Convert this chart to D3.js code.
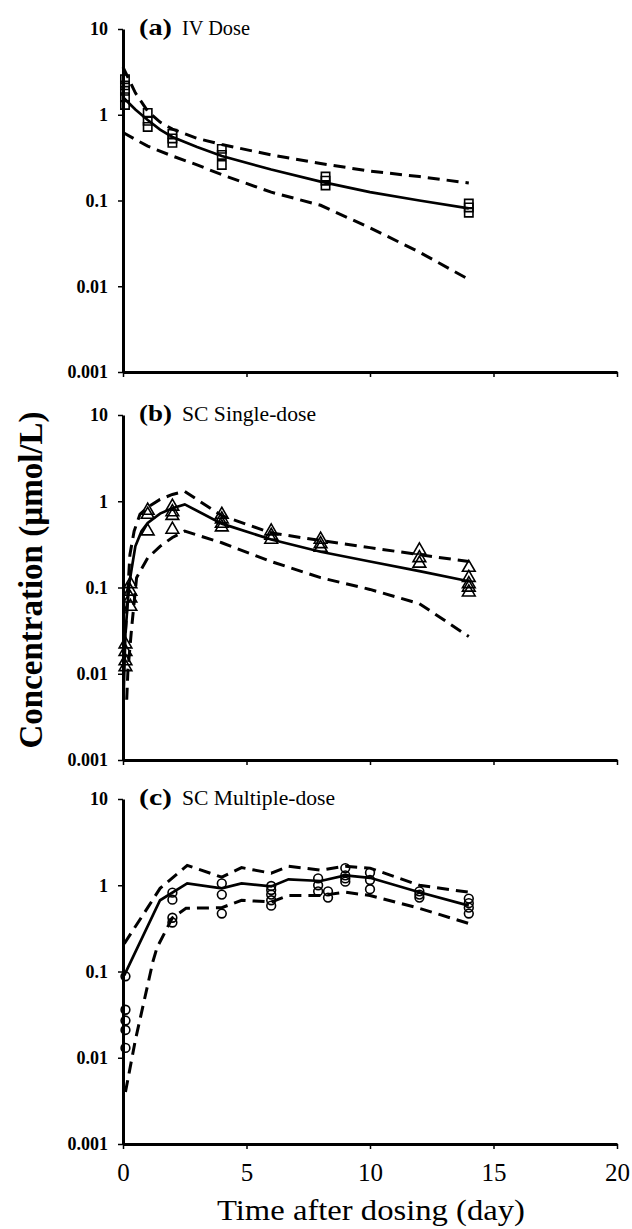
<!DOCTYPE html>
<html><head>
<meta charset="UTF-8">
<script src="https://cdn.jsdelivr.net/npm/d3@7/dist/d3.min.js"></script>
<style>
body{margin:0;background:#fff}
svg{display:block}
.tick text{font-family:"Liberation Serif","Times New Roman",serif;fill:#000}
</style>
</head><body>
<svg id="chart" width="632" height="1229"></svg>
<script>
// axis ticks
var ticksY = [0.001, 0.01, 0.1, 1, 10];
var ticksX = [0, 5, 10, 15, 20];

// (a) IV dose: observed [day, umol/L], median and 5/95% predictions
var ivObs = [[0.08,1.3],[0.08,1.6],[0.08,1.9],[0.08,2.2],[0.08,2.6],
  [1,1.05],[1,0.85],[1,0.72],[2,0.6],[2,0.53],[2,0.47],
  [4,0.4],[4,0.34],[4,0.26],[8.2,0.19],[8.2,0.17],[8.2,0.15],
  [14,0.092],[14,0.083],[14,0.072]];
var ivMed = [[0,1.6],[0.5,1.15],[1,0.87],[1.5,0.67],[2,0.55],[3,0.42],[4,0.33],[6,0.23],[8,0.166],[10,0.125],[12,0.1],[14,0.081]];
var ivHi = [[0,3.6],[0.5,1.8],[1,1.1],[1.5,0.82],[2,0.68],[3,0.53],[4,0.45],[6,0.34],[8,0.27],[10,0.22],[12,0.19],[14,0.16]];
var ivLo = [[0,0.62],[1,0.43],[2,0.33],[3,0.26],[4,0.2],[6,0.125],[8,0.088],[10,0.048],[12,0.025],[14,0.012]];

// (b) SC single dose
var scObs = [[0.1,0.022],[0.1,0.018],[0.1,0.014],[0.1,0.012],
  [0.3,0.11],[0.3,0.09],[0.3,0.075],[0.3,0.06],
  [1,0.78],[1,0.7],[1,0.45],[2,0.87],[2,0.75],[2,0.68],[2,0.47],
  [4,0.7],[4,0.62],[4,0.55],[4,0.5],[6,0.45],[6,0.4],[6,0.36],
  [8,0.36],[8,0.32],[8,0.29],[12,0.27],[12,0.22],[12,0.19],
  [14,0.17],[14,0.13],[14,0.11],[14,0.1],[14,0.088]];
var scMed = [[0.02,0.005],[0.1,0.03],[0.25,0.11],[0.5,0.3],[0.75,0.45],[1,0.56],[1.5,0.72],[2,0.83],[2.5,0.92],[4,0.55],[6,0.36],[8,0.26],[10,0.2],[12,0.155],[14,0.118]];
var scHi = [[0.1,0.03],[0.28,0.24],[0.45,0.45],[0.69,0.71],[1.05,0.87],[1.5,1.05],[2,1.2],[2.5,1.3],[4,0.68],[6,0.43],[8,0.35],[10,0.29],[12,0.24],[14,0.2]];
var scLo = [[0.15,0.005],[0.2,0.011],[0.35,0.034],[0.55,0.13],[1,0.22],[1.5,0.3],[2,0.38],[2.5,0.45],[4,0.33],[6,0.2],[8,0.13],[10,0.095],[12,0.065],[14,0.027]];

// (c) SC multiple dose
var mcObs = [[0.1,0.088],[0.1,0.036],[0.1,0.027],[0.1,0.021],[0.1,0.013],
  [2,0.82],[2,0.68],[2,0.42],[2,0.37],[4,1.05],[4,0.78],[4,0.47],
  [6,0.98],[6,0.88],[6,0.78],[6,0.67],[6,0.58],[7.9,1.2],[7.9,1.0],[7.9,0.85],
  [8.3,0.85],[8.3,0.72],[9,1.58],[9,1.3],[9,1.2],[9,1.1],
  [10,1.4],[10,1.15],[10,0.9],[12,0.85],[12,0.78],[12,0.72],
  [14,0.7],[14,0.62],[14,0.55],[14,0.47]];
var mcMed = [[0.05,0.09],[1.5,0.67],[2.6,1.05],[4,0.92],[4.8,1.05],[6,0.97],[6.7,1.17],[8,1.12],[9,1.3],[10,1.22],[12,0.83],[14,0.58]];
var mcHi = [[0.05,0.21],[1,0.55],[1.5,0.92],[2.6,1.7],[4,1.24],[4.8,1.6],[6,1.38],[6.7,1.66],[8,1.5],[9,1.66],[10,1.58],[12,1.0],[14,0.83]];
var mcLo = [[0.1,0.004],[0.5,0.016],[1.21,0.13],[1.38,0.19],[2,0.42],[2.55,0.54],[4,0.55],[4.8,0.67],[6,0.64],[6.7,0.76],[8,0.76],[9,0.83],[10,0.76],[12,0.54],[14,0.36]];

var panels = [
  {tag:"(a)", name:"IV Dose", nameW:68, top:29, bottom:372, obs:ivObs, med:ivMed, hi:ivHi, lo:ivLo, shape:"square"},
  {tag:"(b)", name:"SC Single-dose", nameW:134, top:415, bottom:760, obs:scObs, med:scMed, hi:scHi, lo:scLo, shape:"triangle"},
  {tag:"(c)", name:"SC Multiple-dose", nameW:153, top:799, bottom:1144, obs:mcObs, med:mcMed, hi:mcHi, lo:mcLo, shape:"circle"}
];

var svg = d3.select("#chart");
var serif = '"Liberation Serif","Times New Roman",serif';
var x = d3.scaleLinear().domain([0, 20]).range([123, 617]);

panels.forEach(function(p, i){
  var y = d3.scaleLog().domain([0.001, 10]).range([p.bottom, p.top]);
  var g = svg.append("g");
  var line = d3.line().x(function(d){return x(d[0]);}).y(function(d){return y(d[1]);});

  g.append("path").datum(p.hi).attr("d", line).attr("fill","none").attr("stroke","#000")
    .attr("stroke-width",3).attr("stroke-dasharray","12,7");
  g.append("path").datum(p.lo).attr("d", line).attr("fill","none").attr("stroke","#000")
    .attr("stroke-width",3).attr("stroke-dasharray","12,7");
  g.append("path").datum(p.med).attr("d", line).attr("fill","none").attr("stroke","#000")
    .attr("stroke-width",2.7);

  var sym = p.shape == "square" ? d3.symbolSquare : (p.shape == "triangle" ? d3.symbolTriangle : d3.symbolCircle);
  var sz = p.shape == "square" ? 70 : (p.shape == "triangle" ? 70 : 60);
  g.selectAll(".pt").data(p.obs).enter().append("path")
    .attr("d", d3.symbol().type(sym).size(sz))
    .attr("transform", function(d){return "translate(" + x(d[0]) + "," + y(d[1]) + ")";})
    .attr("fill","none").attr("stroke","#000").attr("stroke-width",1.6);

  // axes
  var ya = g.append("g").attr("transform","translate(123,0)")
    .call(d3.axisLeft(y).tickValues(ticksY).tickSize(5).tickSizeOuter(0).tickPadding(10)
      .tickFormat(function(d){return String(d);}));
  ya.select(".domain").attr("stroke-width",3);
  ya.selectAll(".tick line").attr("stroke-width",1.5);
  ya.selectAll(".tick text").attr("font-size",18).attr("font-weight","bold").attr("font-family",serif);

  var xa = g.append("g").attr("transform","translate(0," + p.bottom + ")")
    .call(d3.axisBottom(x).tickValues(ticksX).tickSize(5).tickSizeOuter(0).tickPadding(14)
      .tickFormat(i == 2 ? function(d){return String(d);} : function(){return "";}));
  xa.select(".domain").attr("stroke-width",3);
  xa.selectAll(".tick line").attr("stroke-width",1.5);
  xa.selectAll(".tick text").attr("font-size",25).attr("font-family",serif);

  // panel title
  g.append("text").attr("x",139).attr("y",p.top + 6).attr("font-family",serif)
    .attr("font-size",23).attr("font-weight","bold")
    .attr("textLength",33).attr("lengthAdjust","spacingAndGlyphs").text(p.tag);
  g.append("text").attr("x",182).attr("y",p.top + 6).attr("font-family",serif)
    .attr("font-size",20).attr("textLength",p.nameW).attr("lengthAdjust","spacingAndGlyphs").text(p.name);
});

svg.append("text").attr("x",217).attr("y",1220)
  .attr("font-family",serif).attr("font-size",30)
  .attr("textLength",308).attr("lengthAdjust","spacingAndGlyphs").text("Time after dosing (day)");
svg.append("text").attr("transform","translate(42,580) rotate(-90)").attr("text-anchor","middle")
  .attr("font-family",serif).attr("font-size",33).attr("font-weight","bold").text("Concentration (µmol/L)");
</script>
</body></html>
